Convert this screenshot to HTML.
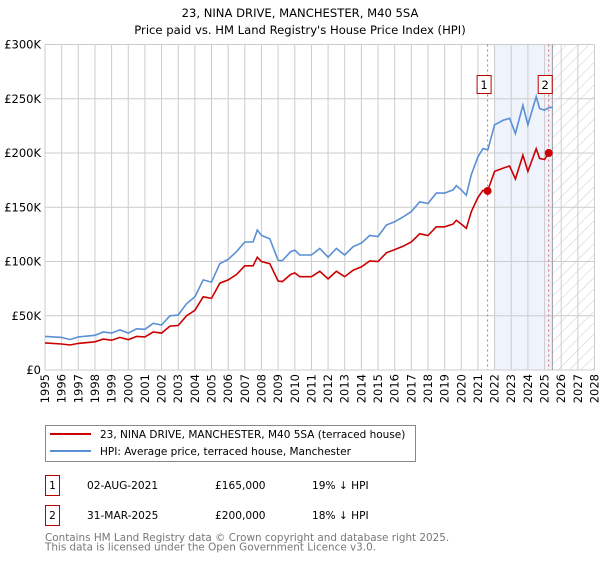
<!DOCTYPE html>
<html><head><meta charset="utf-8"><style>
body{margin:0;background:#fff;width:600px;height:560px;overflow:hidden;font-family:"DejaVu Sans","Liberation Sans",sans-serif;}
svg text{font-family:"DejaVu Sans","Liberation Sans",sans-serif;}
</style></head><body>
<svg id="chart" width="600" height="560" xmlns="http://www.w3.org/2000/svg">
<defs><pattern id="hatch" width="8" height="8" patternUnits="userSpaceOnUse" patternTransform="rotate(45)"><line x1="0" y1="0" x2="0" y2="8" stroke="#ccc" stroke-width="1"/></pattern></defs>
<text x="300" y="17" text-anchor="middle" font-size="11.6">23, NINA DRIVE, MANCHESTER, M40 5SA</text>
<text x="300" y="34" text-anchor="middle" font-size="11.6">Price paid vs. HM Land Registry's House Price Index (HPI)</text>
<g id="grid"></g><g id="marks"></g><g id="axes"></g>
<g>
<rect x="45.5" y="425.5" width="370" height="36" fill="#fff" stroke="#888"/>
<line x1="50" y1="434" x2="91" y2="434" stroke="#cc0000" stroke-width="2"/>
<text x="100" y="438" font-size="10.5">23, NINA DRIVE, MANCHESTER, M40 5SA (terraced house)</text>
<line x1="50" y1="451" x2="91" y2="451" stroke="#5b8fd4" stroke-width="2"/>
<text x="100" y="455" font-size="10.5">HPI: Average price, terraced house, Manchester</text>
</g>
<g font-size="10.6">
<rect x="45.5" y="475.5" width="14" height="20" fill="#fff" stroke="#b00"/>
<text x="52.5" y="489" text-anchor="middle">1</text>
<text x="87" y="489">02-AUG-2021</text>
<text x="215" y="489">£165,000</text>
<text x="312" y="489">19% ↓ HPI</text>
<rect x="45.5" y="505.5" width="14" height="20" fill="#fff" stroke="#b00"/>
<text x="52.5" y="519" text-anchor="middle">2</text>
<text x="87" y="519">31-MAR-2025</text>
<text x="215" y="519">£200,000</text>
<text x="312" y="519">18% ↓ HPI</text>
</g>
<text x="45" y="541" font-size="10.4" fill="#777">Contains HM Land Registry data © Crown copyright and database right 2025.</text>
<text x="45" y="550.5" font-size="10.4" fill="#777">This data is licensed under the Open Government Licence v3.0.</text>
</svg>
<script>
const hpiYears=[1995,1996,1996.5,1997,1998,1998.5,1999,1999.5,2000,2000.5,2001,2001.5,2002,2002.5,2003,2003.5,2004,2004.5,2005,2005.5,2006,2006.5,2007,2007.5,2007.75,2008,2008.5,2009,2009.25,2009.75,2010,2010.3,2011,2011.5,2012,2012.5,2013,2013.5,2014,2014.5,2015,2015.5,2016,2016.5,2017,2017.5,2018,2018.5,2019,2019.5,2019.7,2020,2020.3,2020.6,2021,2021.3,2021.6,2022,2022.5,2022.9,2023.25,2023.7,2024,2024.5,2024.7,2025,2025.3,2025.5];
const hpiValues=[31,30,28,30.5,32,35,34,37,34,38,37.5,43,41.5,50,50.7,61,67.5,83,81,98,102,109,118,118,129,124,121,101,100.7,109,110.5,106,106,112,104,112,106,113.6,117,124,123,133.6,136.6,141,146,155,153.5,163,163,166,170,166,161,180,196.5,204,203,226,230,232,218,244,226,252,241,239.5,242,242];
const priceYears=[1995,1996,1996.5,1997,1998,1998.5,1999,1999.5,2000,2000.5,2001,2001.5,2002,2002.5,2003,2003.5,2004,2004.5,2005,2005.5,2006,2006.5,2007,2007.5,2007.75,2008,2008.5,2009,2009.25,2009.75,2010,2010.3,2011,2011.5,2012,2012.5,2013,2013.5,2014,2014.5,2015,2015.5,2016,2016.5,2017,2017.5,2018,2018.5,2019,2019.5,2019.7,2020,2020.3,2020.6,2021,2021.3,2021.58,2022,2022.5,2022.9,2023.25,2023.7,2024,2024.5,2024.7,2025,2025.25];
const priceValues=[25,24,23,24.5,26,28.5,27.5,30,28,31,30.5,35,34,40.5,41,50,55,67.5,66,80,83,88,96,96,104,100,98,82,81.5,88,89.5,86,86,91,84,91,86,92,95,100.5,100,108,111,114,118,125.5,124,132,132,134.5,138,134.5,130.5,146,159,165.5,165,183,186,188,176,198,183,204,195,194,200];
const saleYears=[2021.58,2025.25];
const saleValues=[165,200];
const saleLabels=["1","2"];
const yTicks=[0,50,100,150,200,250,300];
const yTickLabels=["£0","£50K","£100K","£150K","£200K","£250K","£300K"];
const xTicks=[1995,1996,1997,1998,1999,2000,2001,2002,2003,2004,2005,2006,2007,2008,2009,2010,2011,2012,2013,2014,2015,2016,2017,2018,2019,2020,2021,2022,2023,2024,2025,2026,2027,2028];

const X0=45,X1=594.5,Y0=370,Y1=44.5;
const xs=y=>X0+(y-1995)/(2028-1995)*(X1-X0);
const ys=v=>Y0-v/300*(Y0-Y1);
const NS="http://www.w3.org/2000/svg";
function mk(tag,attrs,parent){const e=document.createElementNS(NS,tag);for(const k in attrs)e.setAttribute(k,attrs[k]);parent.appendChild(e);return e;}
const grid=document.getElementById('grid'),marks=document.getElementById('marks'),axes=document.getElementById('axes');

let r=mk('rect',{x:xs(2022),y:Y1,width:xs(2025.47)-xs(2022),height:Y0-Y1,fill:'#eef3fc'},grid);


r=mk('rect',{x:xs(2025.47),y:Y1,width:X1-xs(2025.47),height:Y0-Y1,fill:'url(#hatch)'},grid);


xTicks.forEach(t=>{
  const l=mk('line',{x1:xs(t),x2:xs(t),y1:Y1,y2:Y0,stroke:'#ccc','stroke-width':1},grid);
  
  
  const tx=mk('text',{x:0,y:0,'font-size':11.5,'text-anchor':'end',transform:`translate(${xs(t)+4},${Y0+4}) rotate(-90)`},axes);
  tx.textContent=t;
  
  
});
yTicks.forEach((t,i)=>{
  const l=mk('line',{x1:X0,x2:X1,y1:ys(t),y2:ys(t),stroke:'#ccc','stroke-width':1},grid);
  
  
  const tx=mk('text',{x:X0-4,y:ys(t)+4,'font-size':11.5,'text-anchor':'end'},axes);
  tx.textContent=yTickLabels[i];
  
  
});
let vl=mk('line',{x1:xs(2025.47),x2:xs(2025.47),y1:Y1,y2:Y0,stroke:'#999','stroke-width':1},grid);



const pts=(a,b)=>a.map((y,i)=>xs(y).toFixed(1)+','+ys(b[i]).toFixed(1)).join(' ');
let hp=mk('polyline',{points:pts(hpiYears,hpiValues),fill:'none',stroke:'#5b8fd4','stroke-width':1.6},marks);


let pp=mk('polyline',{points:pts(priceYears,priceValues),fill:'none',stroke:'#cc0000','stroke-width':1.6},marks);


saleYears.forEach((y,i)=>{
  const d=mk('line',{x1:xs(y),x2:xs(y),y1:Y1,y2:Y0,stroke:'#e06070','stroke-width':1,'stroke-dasharray':'2,3'},marks);
  
  
  const c=mk('circle',{cx:xs(y),cy:ys(saleValues[i]),r:4,fill:'#cc0000'},marks);
  
  
  const b=mk('rect',{x:xs(y)-10.5,y:75.5,width:14,height:18,fill:'#fff',stroke:'#b00'},marks);
  
  
  const t=mk('text',{x:xs(y)-3.5,y:89,'font-size':11.5,'text-anchor':'middle'},marks);
  t.textContent=saleLabels[i];
  
  
});
</script>
</body></html>
